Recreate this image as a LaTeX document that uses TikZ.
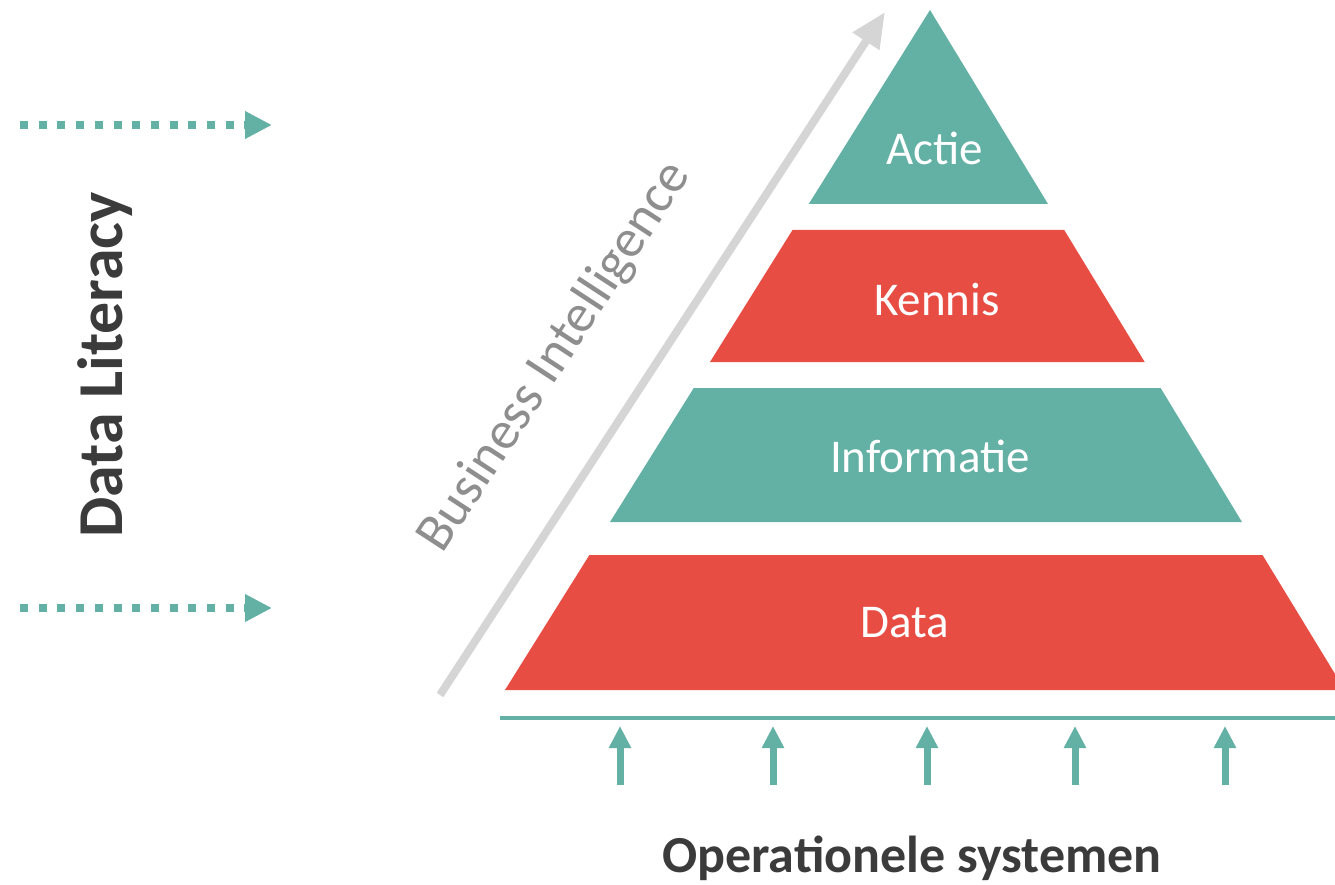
\documentclass[tikz,border=0pt]{standalone}
\usepackage{fontspec}
\setmainfont{Carlito}
\usetikzlibrary{arrows.meta}
\definecolor{teal1}{HTML}{63B1A5}
\definecolor{red1}{HTML}{E84D44}
\definecolor{grayarrow}{HTML}{D5D5D5}
\definecolor{graytext}{HTML}{8E8E8E}
\definecolor{darktext}{HTML}{3B3B3B}
\begin{document}
\begin{tikzpicture}[x=1pt,y=-1pt,
  layerlabel/.style={text=white, font=\fontsize{47}{50}\selectfont, anchor=base, inner sep=0pt},
  dotarrow/.style={teal1, line width=8pt, dash pattern=on 8pt off 10.7pt, -{Triangle[length=27pt,width=26pt]}},
  uparrow/.style={teal1, line width=7pt, -{Triangle[length=22pt,width=21pt]}},
  biarrow/.style={grayarrow, line width=8pt, -{Triangle[length=35pt,width=30pt]}},
  darklabel/.style={text=darktext, inner sep=0pt},
]
\useasboundingbox (0,0) rectangle (1335,885);
\clip (0,0) rectangle (1335,885);
% pyramid
\fill[teal1] (930,10) -- (1048,204) -- (808.75,204) -- cycle;
\fill[red1] (792.5,230) -- (1064.2,230) -- (1144.7,362) -- (710,362) -- cycle;
\fill[teal1] (693.75,388) -- (1160.6,388) -- (1242,522) -- (610,522) -- cycle;
\fill[red1] (589.4,555) -- (1262.5,555) -- (1344.8,690) -- (505,690) -- cycle;
\node[layerlabel] (actie) at (935,165) {Actie};
\node[layerlabel] (kennis) at (937,315) {Kennis};
\node[layerlabel] (info) at (930,472) {Informatie};
\node[layerlabel] (data) at (905,637) {Data};
% business intelligence arrow
\coordinate (bistart) at (440,695);
\coordinate (biend) at (885,12);
\draw[biarrow] (bistart) -- (biend);
\node[rotate=56.9, text=graytext, font=\fontsize{54}{56}\selectfont, inner sep=0pt] (bi) at (555,357) {Business Intelligence};
% data literacy
\coordinate (d1s) at (20,125); \coordinate (d1e) at (272,125);
\coordinate (d2s) at (20,608); \coordinate (d2e) at (272,608);
\draw[dotarrow] (d1s) -- (d1e);
\draw[dotarrow] (d2s) -- (d2e);
\node[darklabel, rotate=90, font=\bfseries\fontsize{64}{66}\selectfont] (dl) at (105,365) {Data Literacy};
% operational systems
\coordinate (baseL) at (500,718);
\coordinate (baseR) at (1335,718);
\draw[teal1, line width=4pt] (baseL) -- (baseR);
\foreach \i/\x in {1/620,2/773,3/927,4/1075,5/1225} {
  \coordinate (u\i s) at (\x,785);
  \coordinate (u\i e) at (\x,726);
  \draw[uparrow] (u\i s) -- (u\i e);
}
\node[darklabel, anchor=base, font=\bfseries\fontsize{52}{54}\selectfont] (ops) at (912,872) {Operationele systemen};
\end{tikzpicture}
\end{document}
